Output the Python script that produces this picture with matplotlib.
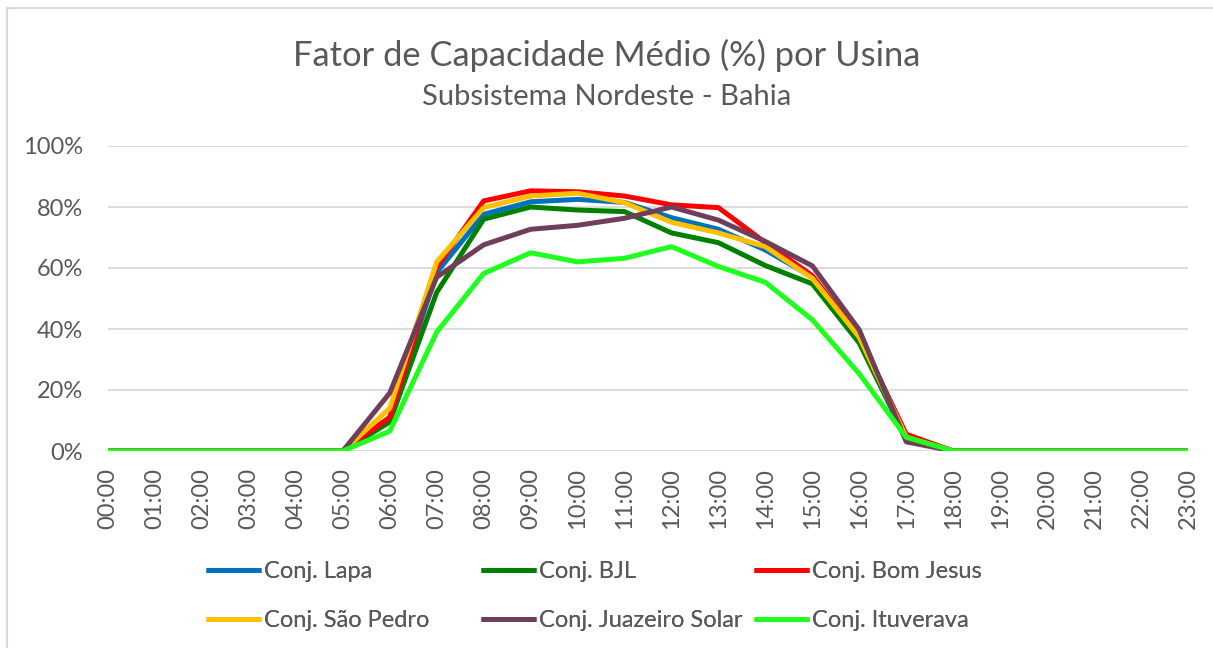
import matplotlib.pyplot as plt
from matplotlib.patches import Rectangle
from matplotlib.ticker import PercentFormatter

hours = [f"{h:02d}:00" for h in range(24)]

lapa = [0, 0, 0, 0, 0, 0, 11, 58.5, 77.6, 81.7, 82.5, 81.5, 76.5, 72.7, 65.9, 57, 38, 5, 0, 0, 0, 0, 0, 0]
bjl = [0, 0, 0, 0, 0, 0, 9.5, 52, 76, 80, 79, 78.5, 71.5, 68.3, 60.8, 54.8, 35.4, 4, 0, 0, 0, 0, 0, 0]
bom_jesus = [0, 0, 0, 0, 0, 0, 11, 60.3, 82, 85.3, 85, 83.6, 80.7, 79.8, 68.3, 57.5, 37.5, 5.5, 0, 0, 0, 0, 0, 0]
sao_pedro = [0, 0, 0, 0, 0, 0, 14, 62, 79.8, 83.6, 84.5, 81.4, 75, 71.5, 67, 56.6, 37.3, 4.5, 0, 0, 0, 0, 0, 0]
juazeiro = [0, 0, 0, 0, 0, 0, 19, 57, 67.6, 72.7, 74, 76.3, 80, 75.7, 68.7, 60.7, 39.7, 3, 0, 0, 0, 0, 0, 0]
ituverava = [0, 0, 0, 0, 0, 0, 6.5, 39, 58.2, 65, 62, 63.2, 67, 60.5, 55.3, 43, 25.3, 4.5, 0, 0, 0, 0, 0, 0]

series = [
    ("Conj. Lapa", lapa, "#0070C0"),
    ("Conj. BJL", bjl, "#008000"),
    ("Conj. Bom Jesus", bom_jesus, "#FF0000"),
    ("Conj. São Pedro", sao_pedro, "#FFC000"),
    ("Conj. Juazeiro Solar", juazeiro, "#6F3E5A"),
    ("Conj. Ituverava", ituverava, "#1EFF1E"),
]

text_color = "#595959"
plt.rcParams['font.family'] = ['Lato', 'DejaVu Sans']

fig = plt.figure(figsize=(12.13, 6.48), dpi=100)
ax = fig.add_axes([108 / 1213, 1 - 451 / 648, 1080 / 1213, 305 / 648])

# chart border (right and bottom edges fall outside the picture)
fig.patches.append(Rectangle((7 / 1213, -0.1), 1.2, 1 - 8 / 648 + 0.1, transform=fig.transFigure,
                             fill=False, edgecolor="#D9D9D9", linewidth=1.5))

x = list(range(len(hours)))
handles = []
for name, values, color in series:
    line, = ax.plot(x, values, color=color, linewidth=3.6, solid_capstyle="butt", label=name)
    handles.append(line)

ax.set_xlim(0, 23)
ax.set_ylim(0, 100)
ax.set_yticks(range(0, 101, 20))
ax.yaxis.set_major_formatter(PercentFormatter(decimals=0))
ax.set_xticks(x)
ax.set_xticklabels(hours, rotation=90)
ax.tick_params(length=0, labelsize=17, labelcolor=text_color)
ax.tick_params(axis="y", pad=18)
ax.tick_params(axis="x", pad=12)
ax.grid(axis="y", color="#D9D9D9", linewidth=1.3)
ax.set_axisbelow(True)
for spine in ax.spines.values():
    spine.set_visible(False)

fig.text(0.5, 1 - 55 / 648, "Fator de Capacidade Médio (%) por Usina", ha="center", va="center",
         fontsize=24.8, color=text_color)
fig.text(0.5, 1 - 97 / 648, "Subsistema Nordeste - Bahia", ha="center", va="center",
         fontsize=21, color=text_color)

# legend in three columns, filled row by row
col_x = [194, 469, 742]
for i, cx in enumerate(col_x):
    leg = fig.legend(handles=[handles[i], handles[i + 3]], loc="upper left",
                     bbox_to_anchor=(cx / 1213, 1 - 549 / 648), frameon=False,
                     fontsize=17, labelcolor=text_color, handlelength=2.35,
                     handletextpad=0.1, labelspacing=1.2, borderpad=0)
    fig.add_artist(leg)

fig.savefig("out.png", dpi=100)
